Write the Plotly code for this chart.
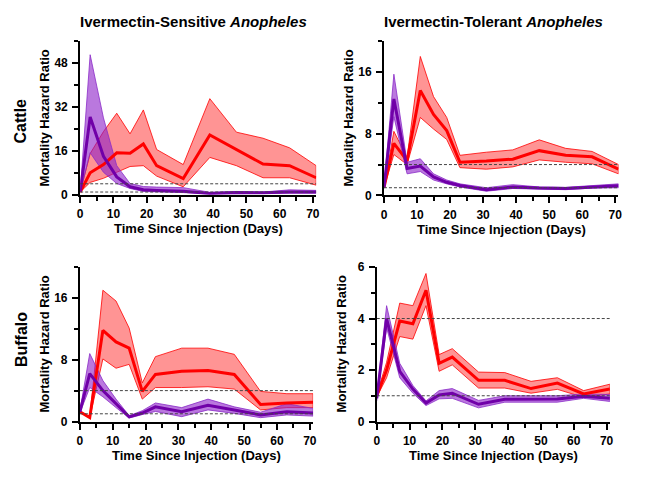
import plotly.graph_objects as go

W, H = 669, 490

days = [0, 3, 7, 11, 15, 19, 23, 31, 39, 47, 55, 63, 71]

# Cattle / Ivermectin-Sensitive
cs_red_mean = [1.0, 8.0, 11.0, 15.3, 15.1, 18.5, 10.6, 5.9, 21.8, 16.5, 11.2, 10.6, 6.2]
cs_red_lo   = [1.0, 4.5, 6.0, 8.2, 10.3, 10.6, 6.8, 2.9, 13.6, 10.6, 6.2, 6.2, 3.5]
cs_red_hi   = [1.0, 15.0, 23.0, 29.7, 22.2, 30.9, 16.5, 11.0, 35.0, 22.8, 20.6, 17.1, 10.6]
cs_pur_mean = [1.0, 28.3, 14.0, 6.5, 2.9, 1.8, 1.6, 1.3, 0.5, 0.8, 0.7, 1.0, 1.0]
cs_pur_lo   = [0.8, 15.3, 8.2, 4.1, 2.3, 1.2, 1.0, 0.8, 0.3, 0.5, 0.5, 0.6, 0.6]
cs_pur_hi   = [1.2, 51.0, 28.0, 10.6, 4.1, 3.0, 2.8, 2.6, 0.9, 1.2, 1.0, 1.8, 1.6]

# Cattle / Ivermectin-Tolerant
ct_red_mean = [1.0, 6.75, 4.5, 13.6, 10.5, 8.4, 4.3, 4.45, 4.7, 5.8, 5.2, 5.0, 3.4]
ct_red_lo   = [1.0, 5.3, 4.0, 10.1, 8.6, 7.25, 3.6, 3.4, 3.7, 4.6, 4.3, 4.1, 2.8]
ct_red_hi   = [1.0, 8.3, 4.9, 18.0, 12.8, 10.1, 5.2, 5.6, 5.9, 7.2, 6.1, 5.7, 4.0]
ct_pur_mean = [1.0, 12.5, 3.5, 3.8, 2.4, 1.7, 1.3, 0.75, 1.1, 0.95, 0.9, 1.1, 1.25]
ct_pur_lo   = [0.9, 10.2, 2.8, 3.1, 2.0, 1.5, 1.1, 0.55, 0.9, 0.8, 0.75, 0.95, 1.0]
ct_pur_hi   = [1.1, 15.7, 4.3, 4.75, 2.8, 2.0, 1.5, 1.0, 1.4, 1.1, 1.05, 1.3, 1.5]

# Buffalo / Ivermectin-Sensitive
bs_red_mean = [1.26, 0.5, 11.8, 10.3, 9.5, 3.9, 6.1, 6.5, 6.6, 6.1, 2.2, 2.4, 2.5]
bs_red_lo   = [1.2, 0.45, 8.1, 6.9, 7.4, 2.9, 4.4, 4.4, 4.5, 4.2, 1.5, 1.8, 1.8]
bs_red_hi   = [1.3, 0.55, 17.0, 15.6, 12.1, 5.0, 8.4, 9.5, 9.5, 8.7, 3.9, 3.6, 3.6]
bs_pur_mean = [1.26, 6.2, 4.0, 2.3, 0.6, 1.1, 1.9, 1.26, 2.1, 1.5, 0.85, 1.26, 1.1]
bs_pur_lo   = [1.1, 4.4, 3.2, 1.8, 0.45, 0.9, 1.3, 0.63, 1.5, 1.05, 0.5, 0.85, 0.7]
bs_pur_hi   = [1.4, 8.8, 5.3, 2.9, 0.75, 1.4, 2.4, 1.8, 2.9, 1.9, 1.2, 2.3, 1.7]

# Buffalo / Ivermectin-Tolerant
bt_red_mean = [1.0, 2.0, 3.9, 3.8, 5.1, 2.26, 2.5, 1.6, 1.6, 1.28, 1.49, 1.07, 1.26]
bt_red_lo   = [0.95, 1.7, 3.3, 3.2, 4.5, 1.95, 2.2, 1.3, 1.3, 1.1, 1.25, 0.94, 1.07]
bt_red_hi   = [1.05, 2.3, 4.6, 4.5, 5.75, 2.6, 2.83, 1.92, 1.9, 1.56, 1.7, 1.2, 1.45]
bt_pur_mean = [0.9, 4.0, 1.95, 1.26, 0.72, 1.03, 1.1, 0.67, 0.86, 0.87, 0.87, 0.98, 0.9]
bt_pur_lo   = [0.8, 3.65, 1.7, 1.1, 0.62, 0.88, 0.9, 0.53, 0.75, 0.75, 0.75, 0.9, 0.78]
bt_pur_hi   = [1.0, 4.5, 2.26, 1.4, 0.8, 1.2, 1.28, 0.82, 1.0, 1.0, 1.0, 1.07, 1.05]

ref_levels = [1, 4]
col_titles = ["Ivermectin-Sensitive <i>Anopheles</i>", "Ivermectin-Tolerant <i>Anopheles</i>"]
row_titles = ["Cattle", "Buffalo"]
x_title = "Time Since Injection (Days)"
y_title = "Mortality Hazard Ratio"

FONT = "Liberation Sans, Arial, sans-serif"
RED = "#FF0000"
RED_FILL = "rgba(255,0,0,0.42)"
PUR = "#7000A8"
PUR_EDGE = "#8A2BC8"
PUR_FILL = "rgba(140,30,200,0.6)"

def px_x(p):
    return p / W

def px_y(p):
    return 1 - p / H

# panel pixel boxes: (left, right, top, bottom)
panels = [
    dict(box=(78, 316.5, 35, 193.3), yr=56, ydt=16, ym=8,
         data=(cs_red_mean, cs_red_lo, cs_red_hi, cs_pur_mean, cs_pur_lo, cs_pur_hi)),
    dict(box=(385, 622, 35, 194), yr=20, ydt=8, ym=4,
         data=(ct_red_mean, ct_red_lo, ct_red_hi, ct_pur_mean, ct_pur_lo, ct_pur_hi)),
    dict(box=(77.7, 313.4, 267.7, 426.7), yr=20, ydt=8, ym=4,
         data=(bs_red_mean, bs_red_lo, bs_red_hi, bs_pur_mean, bs_pur_lo, bs_pur_hi)),
    dict(box=(377.7, 613.3, 267.7, 426.7), yr=6, ydt=2, ym=1,
         data=(bt_red_mean, bt_red_lo, bt_red_hi, bt_pur_mean, bt_pur_lo, bt_pur_hi)),
]

fig = go.Figure()
layout = {}
annotations = []
shapes = []

for i, p in enumerate(panels, start=1):
    xa = "x" if i == 1 else f"x{i}"
    ya = "y" if i == 1 else f"y{i}"
    rm, rl, rh, pm, pl, ph = p["data"]

    def band(lo, hi, fill, edge):
        return go.Scatter(x=days + days[::-1], y=hi + lo[::-1], fill="toself",
                          fillcolor=fill, mode="lines",
                          line=dict(color=edge, width=0.8),
                          xaxis=xa, yaxis=ya, hoverinfo="skip", showlegend=False)

    fig.add_trace(band(rl, rh, RED_FILL, RED))
    fig.add_trace(band(pl, ph, PUR_FILL, PUR_EDGE))
    fig.add_trace(go.Scatter(x=days, y=rm, mode="lines", line=dict(color=RED, width=3),
                             xaxis=xa, yaxis=ya, showlegend=False))
    fig.add_trace(go.Scatter(x=days, y=pm, mode="lines", line=dict(color=PUR, width=3),
                             xaxis=xa, yaxis=ya, showlegend=False))

    l, r, t, b = p["box"]
    axis_common = dict(showline=True, linecolor="black", linewidth=2,
                       ticks="outside", ticklen=6, tickwidth=1.5, tickcolor="black",
                       showgrid=False, zeroline=False,
                       tickfont=dict(family=FONT, size=12, color="black", weight="bold"))
    layout["xaxis" if i == 1 else f"xaxis{i}"] = dict(
        domain=[px_x(l), px_x(r)], anchor=ya, range=[0, 71],
        tick0=0, dtick=10, ticklabelstandoff=1,
        minor=dict(dtick=5, ticklen=4, tickwidth=1.5, tickcolor="black", ticks="outside"),
        **axis_common)
    layout["yaxis" if i == 1 else f"yaxis{i}"] = dict(
        domain=[px_y(b), px_y(t)], anchor=xa, range=[0, p["yr"]],
        tick0=0, dtick=p["ydt"], ticklabelstandoff=2,
        minor=dict(dtick=p["ym"], ticklen=4, tickwidth=1.5, tickcolor="black", ticks="outside"),
        **axis_common)

    for lev in ref_levels:
        shapes.append(dict(type="line", xref=xa, yref=ya, x0=0, x1=71, y0=lev, y1=lev,
                           line=dict(color="#444444", width=1, dash="3px,2px"), layer="above"))

    cx = (l + r) / 2
    cy = (t + b) / 2
    annotations.append(dict(text=f"<b>{x_title}</b>", xref="paper", yref="paper",
                            x=px_x(cx), y=px_y(b + 35), xanchor="center", yanchor="middle",
                            showarrow=False, font=dict(family=FONT, size=13, color="black")))
    annotations.append(dict(text=f"<b>{y_title}</b>", xref="paper", yref="paper",
                            x=px_x(l - 36), y=px_y(cy), xanchor="center", yanchor="middle",
                            textangle=-90, showarrow=False,
                            font=dict(family=FONT, size=13, color="black")))

annotations.append(dict(text=f"<b>{col_titles[0]}</b>", xref="paper", yref="paper",
                        x=px_x(193), y=px_y(15), xanchor="center", yanchor="middle",
                        showarrow=False, font=dict(family=FONT, size=15, color="black")))
annotations.append(dict(text=f"<b>{col_titles[1]}</b>", xref="paper", yref="paper",
                        x=px_x(496), y=px_y(15), xanchor="center", yanchor="middle",
                        showarrow=False, font=dict(family=FONT, size=15, color="black")))
annotations.append(dict(text=f"<b>{row_titles[0]}</b>", xref="paper", yref="paper",
                        x=px_x(18), y=px_y(117), xanchor="center", yanchor="middle",
                        textangle=-90, showarrow=False,
                        font=dict(family=FONT, size=16, color="black")))
annotations.append(dict(text=f"<b>{row_titles[1]}</b>", xref="paper", yref="paper",
                        x=px_x(18), y=px_y(342), xanchor="center", yanchor="middle",
                        textangle=-90, showarrow=False,
                        font=dict(family=FONT, size=16, color="black")))

fig.update_layout(width=W, height=H, margin=dict(l=0, r=0, t=0, b=0),
                  paper_bgcolor="white", plot_bgcolor="white",
                  annotations=annotations, shapes=shapes, **layout)

fig.write_html("out.html", config={"displayModeBar": False},
               post_script="document.body.style.margin='0';document.body.style.overflow='hidden';")
